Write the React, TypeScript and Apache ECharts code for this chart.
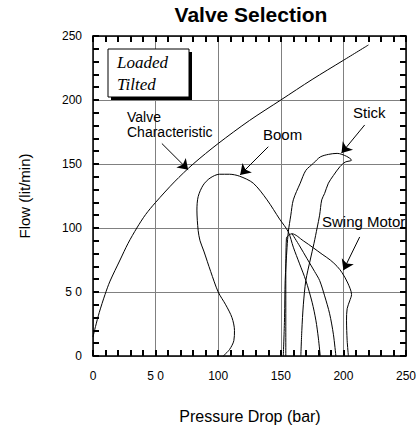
import React, { useEffect, useRef } from "react";
import * as echarts from "echarts";

const xTickLabels = ["0", "5 0", "100", "150", "200", "250"];
const yTickLabels = ["0", "5 0", "100", "150", "200", "250"];

const valveX = [0, 2, 5, 9.6, 13.6, 21.6, 28, 35, 42, 50, 65, 80, 100, 125, 150, 175, 200, 220];
const valveY = [15, 23, 34, 48, 58.5, 75, 88, 100, 110.5, 120, 136, 150, 166, 184, 200, 216, 231, 243];

const boomX = [104, 109, 112.5, 113, 111, 106, 100, 94, 88.5, 85.5, 84, 83, 84, 88, 93.5, 101, 109, 117, 128, 139, 149, 156, 160, 165, 170, 175, 178, 180, 181.5];
const boomY = [0, 5, 12, 20, 30, 40, 50, 66, 82, 90, 98, 114, 124.5, 133.5, 139, 142, 142, 140.5, 135, 122, 107, 97, 85, 72, 59, 42, 28, 14, 0];

const stickX = [152, 153, 153.5, 155, 156, 158, 160, 165.5, 170, 176, 181.5, 188, 195, 202.5, 206.5, 201.5, 197.3, 192, 188, 185, 182.7, 181, 179, 176.5, 173.5, 170, 168, 166.8, 166];
const stickY = [0, 30, 59, 85, 97, 110, 122, 135, 145, 150.5, 155.5, 157.5, 158.3, 156, 153, 151.5, 148, 141, 135, 127, 122, 110, 100, 88, 75, 59, 40, 20, 0];

const swingX = [154, 154, 154.5, 159, 168, 176, 183, 189.5, 195, 199, 203.5, 206.5, 205, 203, 202.5, 203, 204];
const swingY = [0, 60, 92, 95.5, 90, 84.5, 79.5, 75, 70, 65, 57, 48, 43, 37, 28, 12, 0];

const swingBranchX = [159, 165, 171, 177, 181, 185, 189, 192, 194];
const swingBranchY = [95.5, 86, 76, 66, 59, 47, 33, 17, 0];

const zip = (xs: number[], ys: number[]) => xs.map((x, i) => [x, ys[i]]);

export default function App() {
  const ref = useRef<HTMLDivElement>(null);
  useEffect(() => {
    const chart = echarts.init(ref.current as HTMLDivElement, null, { renderer: "svg" });
    const font = '"Liberation Sans", Arial, Helvetica, sans-serif';
    const lineSeries = (name: string, data: number[][], extra: any = {}) => ({
      type: "line",
      name,
      data,
      symbol: "none",
      showSymbol: false,
      smooth: 0.3,
      lineStyle: { color: "#000", width: 1 },
      xAxisIndex: 0,
      yAxisIndex: 0,
      ...extra,
    });
    const ticks = {
      axisTick: { show: true, inside: true, length: 6, lineStyle: { color: "#000", width: 2 } },
      minorTick: { show: true, splitNumber: 5, length: 6, lineStyle: { color: "#000", width: 2 } },
      axisLine: { show: true, onZero: false, lineStyle: { color: "#000", width: 1.5 } },
    };
    const frameAxis = (position: string) => ({
      type: "value",
      gridIndex: 0,
      position,
      min: 0,
      max: 250,
      interval: 50,
      axisLabel: { show: false },
      splitLine: { show: false },
      ...ticks,
    });
    const option: any = {
      animation: false,
      backgroundColor: "#fff",
      grid: { left: 93, right: 14, top: 36, bottom: 74 },
      xAxis: [
        {
          type: "value",
          gridIndex: 0,
          min: 0,
          max: 250,
          interval: 50,
          position: "bottom",
          axisLabel: {
            margin: 14,
            fontSize: 12,
            color: "#000",
            fontFamily: font,
            formatter: (v: number) => xTickLabels[Math.round(v / 50)],
          },
          splitLine: { show: true, lineStyle: { color: "#808080", width: 1 } },
          ...ticks,
        },
        frameAxis("top"),
      ],
      yAxis: [
        {
          type: "value",
          gridIndex: 0,
          min: 0,
          max: 250,
          interval: 50,
          position: "left",
          name: "Flow (lit/min)",
          nameLocation: "middle",
          nameGap: 61,
          nameTextStyle: { fontSize: 15, color: "#000", fontFamily: font },
          axisLabel: {
            margin: 11,
            fontSize: 12,
            color: "#000",
            fontFamily: font,
            formatter: (v: number) => yTickLabels[Math.round(v / 50)],
          },
          splitLine: { show: true, lineStyle: { color: "#808080", width: 1 } },
          ...ticks,
        },
        frameAxis("right"),
      ],
      series: [
        lineSeries("Valve Characteristic", zip(valveX, valveY), {
          markLine: {
            silent: true,
            symbol: ["none", "arrow"],
            symbolSize: 10,
            label: { show: false },
            lineStyle: { color: "#000", width: 1, type: "solid" },
            data: [
              [{ coord: [55, 166] }, { coord: [76, 145.5] }],
              [{ coord: [140, 163.5] }, { coord: [117.5, 141.5] }],
              [{ coord: [217, 180.5] }, { coord: [198.5, 158.5] }],
              [{ coord: [213, 93] }, { coord: [200, 67] }],
            ],
          },
        }),
        lineSeries("Boom", zip(boomX, boomY)),
        lineSeries("Stick", zip(stickX, stickY)),
        lineSeries("Swing Motor", zip(swingX, swingY)),
        lineSeries("Swing Motor branch", zip(swingBranchX, swingBranchY)),
      ],
      graphic: [
        {
          type: "text",
          z: 10,
          style: { text: "Valve Selection", x: 251, y: 14.5, font: `bold 21px ${font}`, fill: "#000", align: "center", verticalAlign: "middle" },
        },
        {
          type: "text",
          z: 10,
          style: { text: "Pressure Drop (bar)", x: 250, y: 416, font: `16px ${font}`, fill: "#000", align: "center", verticalAlign: "middle" },
        },
        { type: "rect", z: 10, shape: { x: 111, y: 52, width: 81, height: 48 }, style: { fill: "#000" } },
        { type: "rect", z: 11, shape: { x: 108, y: 49, width: 81, height: 48 }, style: { fill: "#fff", stroke: "#000", lineWidth: 1 } },
        {
          type: "text",
          z: 12,
          style: { text: "Loaded", x: 117, y: 62.5, font: `italic 17px "Liberation Serif", "Times New Roman", serif`, fill: "#000", align: "left", verticalAlign: "middle" },
        },
        {
          type: "text",
          z: 12,
          style: { text: "Tilted", x: 117, y: 84, font: `italic 17px "Liberation Serif", "Times New Roman", serif`, fill: "#000", align: "left", verticalAlign: "middle" },
        },
        { type: "text", z: 12, style: { text: "Valve", x: 127, y: 117, font: `14px ${font}`, fill: "#000", align: "left", verticalAlign: "middle" } },
        { type: "text", z: 12, style: { text: "Characteristic", x: 127, y: 131.5, font: `14px ${font}`, fill: "#000", align: "left", verticalAlign: "middle" } },
        { type: "text", z: 12, style: { text: "Boom", x: 263, y: 134, font: `15px ${font}`, fill: "#000", align: "left", verticalAlign: "middle" } },
        { type: "text", z: 12, style: { text: "Stick", x: 353, y: 112.5, font: `15px ${font}`, fill: "#000", align: "left", verticalAlign: "middle" } },
        { type: "text", z: 12, style: { text: "Swing Motor", x: 322, y: 221.5, font: `15px ${font}`, fill: "#000", align: "left", verticalAlign: "middle" } },
      ],
    };
    chart.setOption(option);
    return () => chart.dispose();
  }, []);
  return <div ref={ref} style={{ position: "fixed", left: 0, top: 0, width: 420, height: 430, background: "#fff" }} />;
}
